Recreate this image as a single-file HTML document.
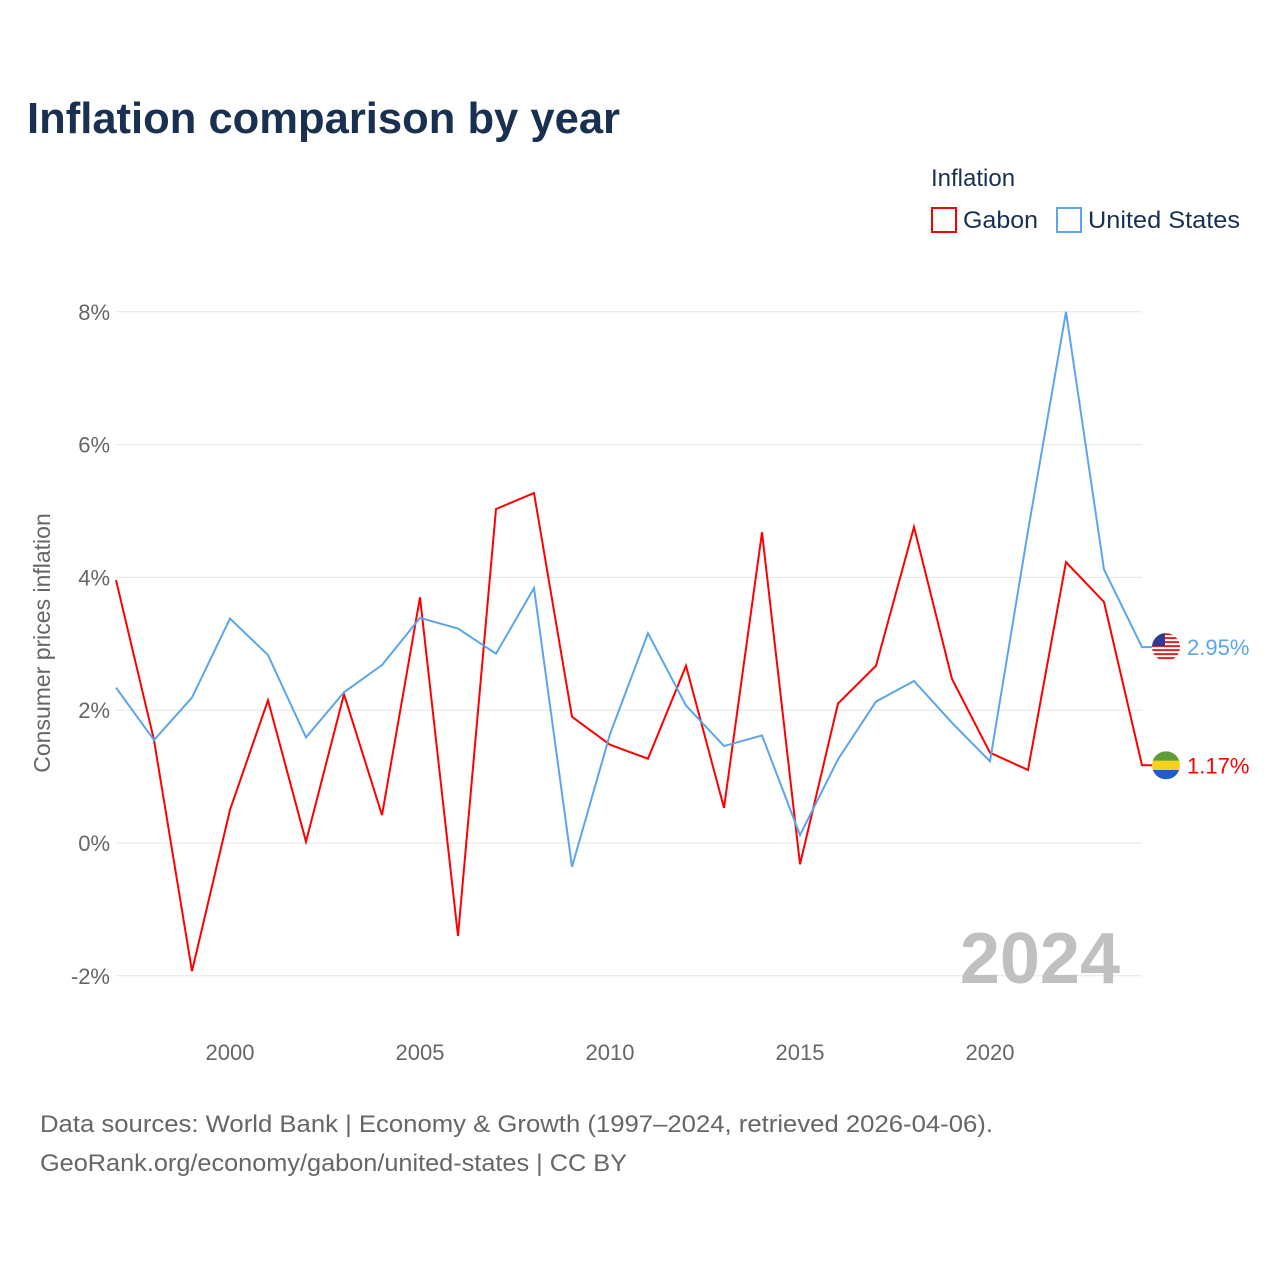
<!DOCTYPE html>
<html><head><meta charset="utf-8"><style>
body{margin:0;background:#fff;font-family:"Liberation Sans",sans-serif;}
</style></head><body>
<svg width="1280" height="1280" xmlns="http://www.w3.org/2000/svg" id="chart" style="font-family:'Liberation Sans',sans-serif">
<text x="27" y="133" font-size="44" font-weight="bold" fill="#1a3050" textLength="593" lengthAdjust="spacingAndGlyphs">Inflation comparison by year</text>
<text x="931" y="186" font-size="24" fill="#1a3050">Inflation</text>
<g><rect x="932" y="208" width="24" height="24" fill="none" stroke="#ff0000" stroke-width="2"/><text x="963" y="228" font-size="24" fill="#1a3050" textLength="75" lengthAdjust="spacingAndGlyphs">Gabon</text></g>
<g><rect x="1057" y="208" width="24" height="24" fill="none" stroke="#5aa5ec" stroke-width="2"/><text x="1088" y="228" font-size="24" fill="#1a3050" textLength="152" lengthAdjust="spacingAndGlyphs">United States</text></g>
<text transform="translate(50,643) rotate(-90)" text-anchor="middle" font-size="23" fill="#666">Consumer prices inflation</text>
<g id="grid"></g><g id="lines"></g>
<text x="1120" y="983" text-anchor="end" font-size="72" font-weight="bold" fill="#c0c0c0">2024</text>
<text x="40" y="1132" font-size="24" fill="#666" textLength="953" lengthAdjust="spacingAndGlyphs">Data sources: World Bank | Economy &amp; Growth (1997–2024, retrieved 2026-04-06).</text>
<text x="40" y="1171" font-size="24" fill="#666" textLength="587" lengthAdjust="spacingAndGlyphs">GeoRank.org/economy/gabon/united-states | CC BY</text>
</svg>
<script>
const years=[1997,1998,1999,2000,2001,2002,2003,2004,2005,2006,2007,2008,2009,2010,2011,2012,2013,2014,2015,2016,2017,2018,2019,2020,2021,2022,2023,2024];
const gabon=[3.96,1.55,-1.93,0.5,2.15,0.02,2.24,0.42,3.7,-1.4,5.03,5.27,1.9,1.48,1.27,2.67,0.53,4.68,-0.32,2.1,2.67,4.76,2.47,1.36,1.1,4.23,3.63,1.17];
const us=[2.34,1.55,2.19,3.38,2.83,1.59,2.27,2.68,3.39,3.23,2.85,3.84,-0.36,1.64,3.16,2.07,1.46,1.62,0.12,1.26,2.13,2.44,1.81,1.23,4.7,8.0,4.12,2.95];
const yTicks=[-2,0,2,4,6,8];
const xTicks=[2000,2005,2010,2015,2020];
const NS="http://www.w3.org/2000/svg";
const X=y=>116+(y-1997)*38, Y=v=>843-v*66.4;
function mk(t,a,p){const e=document.createElementNS(NS,t);for(const k in a)e.setAttribute(k,a[k]);p.appendChild(e);return e;}
const grid=document.getElementById('grid'),lines=document.getElementById('lines');
yTicks.forEach(v=>{
 const l=mk('line',{x1:116,x2:1142,y1:Y(v),y2:Y(v),stroke:'#e6e6e6','stroke-width':1},grid);
 
 
 const t=mk('text',{x:110,y:Y(v)+8,'text-anchor':'end','font-size':22,fill:'#666'},grid);t.textContent=v+'%';
 
 
});
xTicks.forEach(y=>{
 const t=mk('text',{x:X(y),y:1060,'text-anchor':'middle','font-size':22,fill:'#666'},grid);t.textContent=y;
 
 
});
function series(d,c,name){
 let pts=d.map((v,i)=>X(years[i])+','+Y(v)).join(' ');
 pts+=' '+(X(2024)+10)+','+Y(d[d.length-1]);
 const p=mk('polyline',{points:pts,fill:'none',stroke:c,'stroke-width':2,'stroke-linejoin':'miter'},lines);
 
 
 const v=d[d.length-1],cy=Y(v),cx=1166;
 const t=mk('text',{x:1187,y:cy+8,'font-size':22,fill:c},lines);t.textContent=v.toFixed(2)+'%';
 
 
 const g=mk('g',{},lines);
 
 
 return {g,cx,cy};
}
let f=series(gabon,'#ff0000','gabon');
mk('clipPath',{id:'cg'},f.g);
mk('circle',{cx:f.cx,cy:f.cy,r:14},f.g.querySelector('#cg'));
[['#5e9c3a',0],['#f5d21c',1],['#1c5fc2',2]].forEach(([c,i])=>mk('rect',{x:f.cx-14,y:f.cy-14+i*28/3,width:28,height:28/3+0.5,fill:c,'clip-path':'url(#cg)'},f.g));
f=series(us,'#5aa5ec','united-states');
mk('clipPath',{id:'cu'},f.g);
mk('circle',{cx:f.cx,cy:f.cy,r:14},f.g.querySelector('#cu'));
for(let i=0;i<7;i++)mk('rect',{x:f.cx-14,y:f.cy-14+i*4,width:28,height:2,fill:'#d22','clip-path':'url(#cu)'},f.g);
mk('rect',{x:f.cx-14,y:f.cy-14,width:13,height:13,fill:'#2a3f8a','clip-path':'url(#cu)'},f.g);
</script>
</body></html>
